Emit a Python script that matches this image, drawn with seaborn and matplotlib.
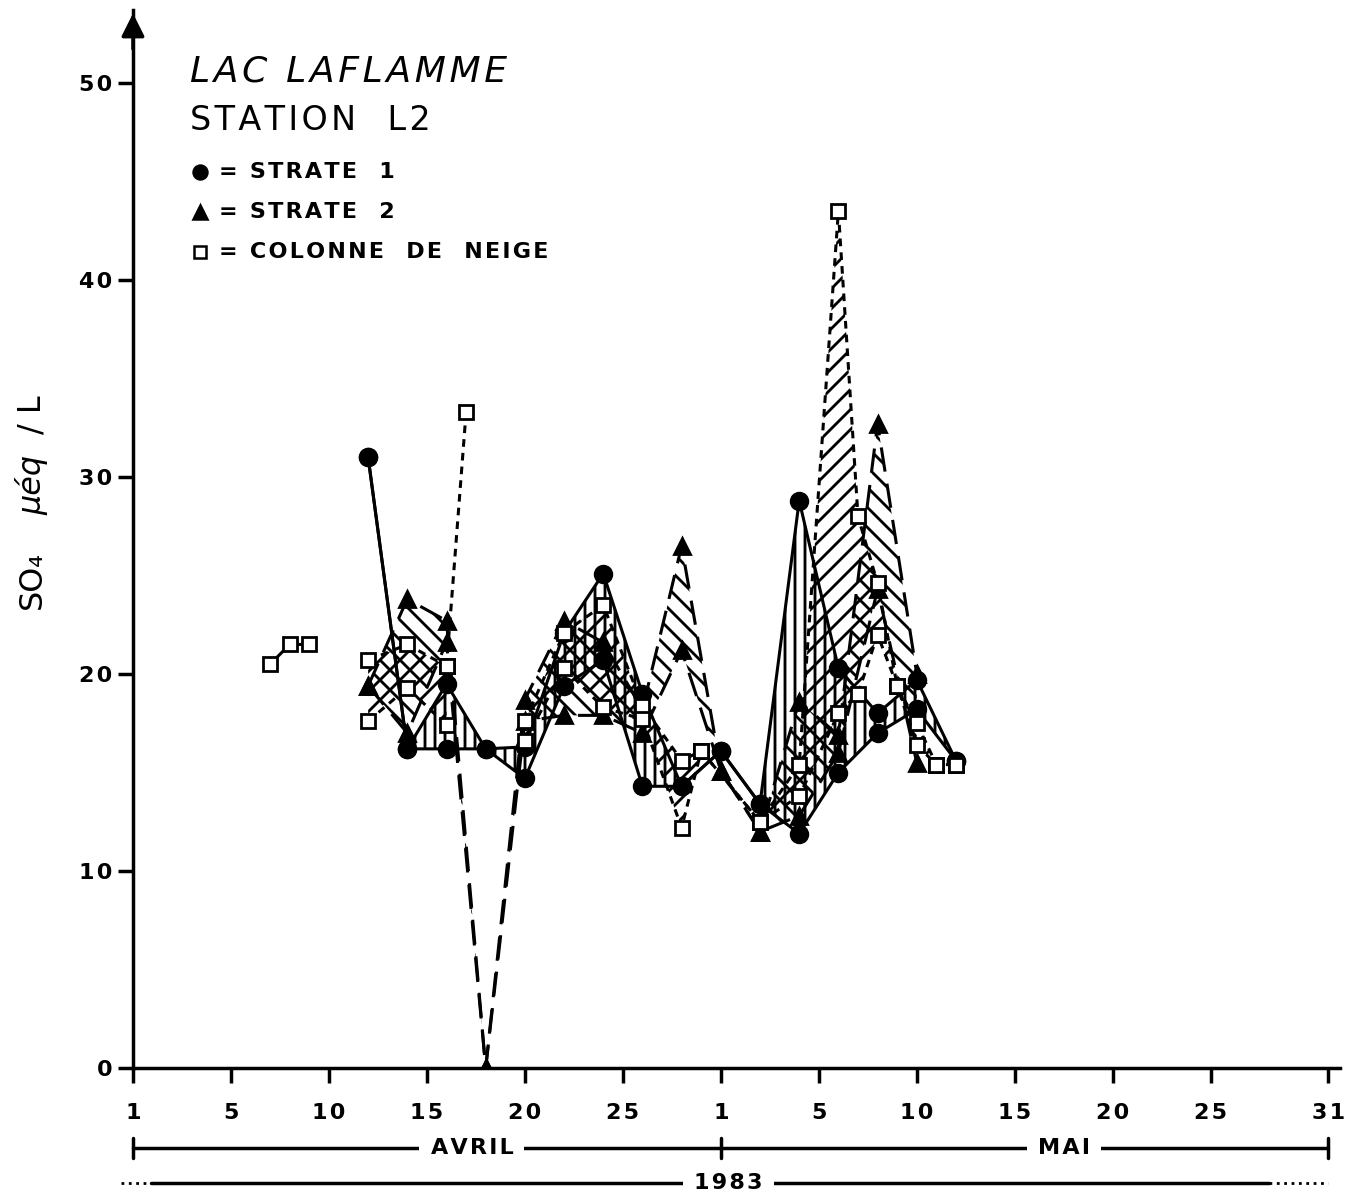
import numpy as np
import pandas as pd
import matplotlib
matplotlib.use("Agg")
import matplotlib.pyplot as plt
import seaborn as sns

# day index: April d -> d, May d -> 30 + d  (axis origin "1" sits at 0)
s1_days = [12, 14, 16, 18, 20, 22, 24, 26, 28, 30, 32, 34, 36, 38, 40, 42]
s1_hi = [31.0, 16.2, 19.5, 16.2, 16.3, 22.1, 25.1, 19.0, 14.3, 16.1, 13.4, 28.8, 20.3, 18.0, 19.7, 15.6]
s1_lo = [31.0, 16.2, 16.2, 16.2, 14.7, 19.4, 20.7, 14.3, 14.3, 16.1, 13.4, 11.9, 15.0, 17.0, 18.2, 15.6]

s2_days = [12, 14, 16, 18, 20, 22, 24, 26, 28, 30, 32, 34, 36, 38, 40]
s2_hi = [19.4, 23.8, 22.7, 0.0, 18.7, 22.7, 21.6, 18.2, 26.5, 15.1, 12.0, 18.6, 16.9, 32.7, 20.0]
s2_lo = [19.4, 17.0, 21.6, 0.0, 17.6, 17.9, 17.9, 17.0, 21.2, 15.1, 12.0, 12.8, 16.0, 24.3, 15.5]

neige_days_a = [7, 8, 9]
neige_a = [20.5, 21.5, 21.5]
neige_days_b = [12, 14, 16]
neige_hi_b = [20.7, 21.5, 20.4]
neige_lo_b = [17.6, 19.3, 17.4]
neige_spike_days = [16, 17]
neige_spike = [20.4, 33.3]
neige_days_c = [20, 22, 24, 26, 28, 29, 32, 34, 36, 37, 38, 39, 40, 41, 42]
neige_hi_c = [17.6, 22.1, 23.5, 18.4, 15.6, 16.1, 12.5, 15.4, 43.5, 28.0, 24.6, 19.4, 17.5, 15.4, 15.4]
neige_lo_c = [16.6, 20.3, 18.3, 17.7, 12.2, 16.1, 12.5, 13.8, 18.0, 19.0, 22.0, 19.4, 16.4, 15.4, 15.4]

tick_pos = [0, 5, 10, 15, 20, 25, 30, 35, 40, 45, 50, 55, 61]
tick_lab = ["1", "5", "10", "15", "20", "25", "1", "5", "10", "15", "20", "25", "31"]
y_ticks = [0, 10, 20, 30, 40, 50]

DPI = 120
K = 100 / DPI  # sizes below are written for 100 dpi
HS = "\u200a"


def spaced(s):
    return HS.join(s)


sns.set_style("ticks")
plt.rcParams["font.family"] = ["DejaVu Sans"]
plt.rcParams["hatch.linewidth"] = 1.7
for key in ["text.color", "axes.edgecolor", "xtick.color", "ytick.color", "axes.labelcolor"]:
    plt.rcParams[key] = "black"

fig = plt.figure(figsize=(1349 / DPI, 1197 / DPI), dpi=DPI)
ax = fig.add_axes([133 / 1349, 1 - 1068 / 1197, 1207 / 1349, 1058 / 1197])
ax.set_xlim(0, 61.6)
ax.set_ylim(0, 1058 / 19.7)

# hatched bands between the two replicate values
ax.fill_between(s1_days, s1_hi, s1_lo, facecolor="none", edgecolor="k", hatch="||", linewidth=0)
ax.fill_between(s2_days, s2_hi, s2_lo, facecolor="none", edgecolor="k", hatch="\\\\", linewidth=0)
ax.fill_between(neige_days_b, neige_hi_b, neige_lo_b, facecolor="none", edgecolor="k", hatch="//", linewidth=0)
ax.fill_between(neige_days_c, neige_hi_c, neige_lo_c, facecolor="none", edgecolor="k", hatch="//", linewidth=0)

long_dash = (0, (8, 4))
short_dash = (0, (2.5, 2))


def draw(x, y, ls, marker, ms, face):
    sns.lineplot(x=x, y=y, ax=ax, color="k", linewidth=2.2 * K, linestyle=ls,
                 marker=marker, markersize=ms * K, markerfacecolor=face,
                 markeredgecolor="k", markeredgewidth=2 * K, estimator=None, sort=False)


draw(s2_days, s2_hi, long_dash, "^", 12, "k")
draw(s2_days, s2_lo, long_dash, "^", 12, "k")
draw(s1_days, s1_hi, "-", "o", 12, "k")
draw(s1_days, s1_lo, "-", "o", 12, "k")
draw(neige_days_a, neige_a, "-", "s", 10, "white")
draw(neige_days_b, neige_hi_b, short_dash, "s", 10, "white")
draw(neige_days_b, neige_lo_b, short_dash, "s", 10, "white")
draw(neige_spike_days, neige_spike, short_dash, "s", 10, "white")
draw(neige_days_c, neige_hi_c, short_dash, "s", 10, "white")
draw(neige_days_c, neige_lo_c, short_dash, "s", 10, "white")

# axes styling
sns.despine(ax=ax)
for sp in ["left", "bottom"]:
    ax.spines[sp].set_linewidth(2.5 * K)
ax.set_xticks(tick_pos)
ax.set_xticklabels([spaced(t) for t in tick_lab], fontsize=16 * K, fontweight="bold")
ax.set_yticks(y_ticks)
ax.set_yticklabels([spaced(str(v)) for v in y_ticks], fontsize=16 * K, fontweight="bold")
ax.tick_params(axis="both", direction="out", length=11 * K, width=2.5 * K, pad=4 * K)
ax.tick_params(axis="x", pad=14 * K)
ax.set_xlabel("")
ax.set_ylabel("")
ax.annotate("", xy=(0, 1.0), xytext=(0, 0.96), xycoords="axes fraction",
            arrowprops=dict(arrowstyle="-|>", mutation_scale=35 * K, color="k", lw=2.5 * K))

# title and legend block
ax.text(2.9, 50.6, spaced("LAC LAFLAMME"), fontsize=26 * K, style="italic", va="center", ha="left")
ax.text(2.9, 48.1, spaced("STATION  L2"), fontsize=24 * K, va="center", ha="left")
legend_rows = [("o", "k", "= STRATE  1"), ("^", "k", "= STRATE  2"), ("s", "white", "= COLONNE  DE  NEIGE")]
for i, (mk, fc, lab) in enumerate(legend_rows):
    yy = 45.5 - 2.05 * i
    ax.plot([3.4], [yy], marker=mk, ms=(10 if mk != "s" else 8) * K, mfc=fc, mec="k", mew=1.8 * K, ls="none")
    ax.text(4.4, yy, spaced(lab), fontsize=16 * K, fontweight="bold", va="center", ha="left")

# y label
fig.text(32 / 1349, 1 - 580 / 1197, "SO₄", rotation=90, fontsize=23 * K, ha="center", va="center")
fig.text(32 / 1349, 1 - 485 / 1197, "μéq", rotation=90, fontsize=23 * K, style="italic", ha="center", va="center")
fig.text(32 / 1349, 1 - 415 / 1197, "/ L", rotation=90, fontsize=23 * K, ha="center", va="center")

# month and year bands under the axis
tr = ax.get_xaxis_transform()
y_month = -80 / 1058
y_year = -115 / 1058
ax.plot([0, 61], [y_month, y_month], color="k", lw=2.5 * K, transform=tr, clip_on=False)
for xb in [0, 30, 61]:
    ax.plot([xb, xb], [y_month - 10 / 1058, y_month + 10 / 1058], color="k", lw=2.5 * K,
            transform=tr, clip_on=False)
for xm, lab in [(17.3, "AVRIL"), (47.5, "MAI")]:
    ax.text(xm, y_month, spaced(lab), transform=tr, fontsize=16 * K, fontweight="bold", ha="center",
            va="center", bbox=dict(facecolor="white", edgecolor="none", pad=8 * K))
ax.plot([-0.6, 0.9], [y_year, y_year], color="k", lw=2 * K, ls=":", transform=tr, clip_on=False)
ax.plot([0.9, 58.0], [y_year, y_year], color="k", lw=2.5 * K, transform=tr, clip_on=False)
ax.plot([58.0, 61], [y_year, y_year], color="k", lw=2 * K, ls=":", transform=tr, clip_on=False)
ax.text(30.4, y_year, spaced("1983"), transform=tr, fontsize=16 * K, fontweight="bold", ha="center",
        va="center", bbox=dict(facecolor="white", edgecolor="none", pad=8 * K))

fig.savefig("out.png", dpi=DPI)
